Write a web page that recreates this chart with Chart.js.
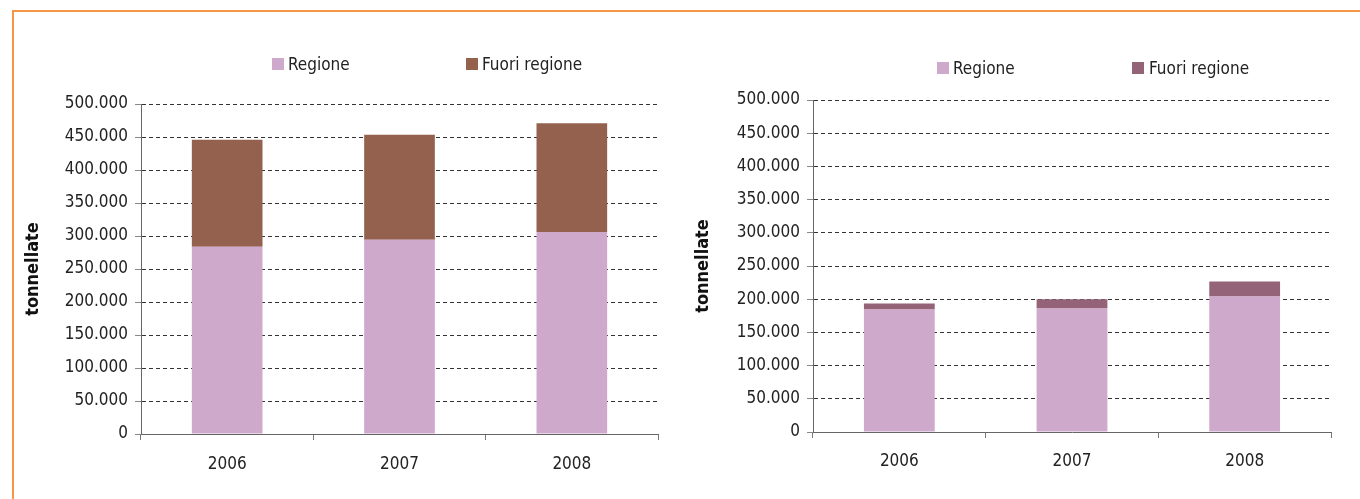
<!DOCTYPE html>
<html>
<head>
<meta charset="utf-8">
<script src="https://cdn.jsdelivr.net/npm/chart.js@4"></script>
<style>
  body { margin: 0; background: #fff; width: 1360px; height: 499px; overflow: hidden; position: relative; }
  .frame { position: absolute; left: 12px; top: 10px; width: 1360px; height: 500px;
           border-top: 2px solid #f79646; border-left: 2px solid #f79646; }
  .box { position: absolute; top: 12px; width: 670px; height: 487px; }
  .legend { position: absolute; font-family: 'DejaVu Sans Condensed', 'DejaVu Sans', sans-serif;
            font-size: 17px; color: #222; white-space: nowrap; line-height: 20px; }
  .sw { position: absolute; width: 12px; height: 12px; }
</style>
</head>
<body>
<div class="frame"></div>
<div class="box" style="left:14px"><canvas id="left"></canvas></div>
<div class="box" style="left:690px"><canvas id="right"></canvas></div>

<div class="sw" style="left:272px;top:58px;background:#cfa9cc"></div>
<div class="legend" style="left:288px;top:54px">Regione</div>
<div class="sw" style="left:466px;top:58px;background:#93614e"></div>
<div class="legend" style="left:482px;top:54px">Fuori regione</div>

<div class="sw" style="left:937px;top:62px;background:#cfa9cc"></div>
<div class="legend" style="left:953px;top:58px">Regione</div>
<div class="sw" style="left:1132px;top:62px;background:#956378"></div>
<div class="legend" style="left:1149px;top:58px">Fuori regione</div>

<script>
// data (tonnellate)
const years = ['2006', '2007', '2008'];
const regioneLeft = [283800, 294400, 306000];
const fuoriLeft = [162200, 159100, 165000];
const regioneRight = [184500, 186000, 204000];
const fuoriRight = [9000, 14000, 22500];
const yMax = 500000;
const yStep = 50000;

const FONT = "'DejaVu Sans Condensed', 'DejaVu Sans', sans-serif";

function fmt(v) {
    return String(v).replace(/\B(?=(\d{3})+(?!\d))/g, '.');
}

function makeChart(id, regione, fuori, fuoriColor, geo) {
    const ctx = document.getElementById(id).getContext('2d');
    return new Chart(ctx, {
        type: 'bar',
        data: {
            labels: years,
            datasets: [
                { label: 'Regione', data: regione, backgroundColor: '#cfa9cc',
                  categoryPercentage: 1, barPercentage: 0.41 },
                { label: 'Fuori regione', data: fuori, backgroundColor: fuoriColor,
                  categoryPercentage: 1, barPercentage: 0.41 }
            ]
        },
        options: {
            responsive: false,
            animation: false,
            devicePixelRatio: 1,
            layout: { padding: { left: 0, top: geo.top, right: geo.right, bottom: 0 } },
            plugins: { legend: { display: false }, tooltip: { enabled: false } },
            scales: {
                x: {
                    stacked: true,
                    grid: { offset: true, drawOnChartArea: false, drawTicks: true,
                            tickLength: 6, color: '#777' },
                    border: { color: '#666', width: 1 },
                    ticks: { color: '#222', font: { family: FONT, size: 17 }, padding: geo.xpad },
                    afterFit: function(s) { s.height = geo.xh; }
                },
                y: {
                    stacked: true,
                    min: 0, max: yMax,
                    grid: { color: '#333', tickColor: '#888', tickLength: 6, lineWidth: 1 },
                    border: { color: '#666', width: 1, dash: [4, 3] },
                    ticks: { stepSize: yStep, color: '#222', padding: 7,
                             font: { family: FONT, size: 17 },
                             callback: function(v) { return fmt(v); } },
                    title: { display: true, text: 'tonnellate', color: '#111',
                             font: { family: FONT, size: 18, weight: 'bold' },
                             padding: geo.tpad },
                    afterFit: function(s) { s.width = geo.yw; }
                }
            }
        }
    });
}

document.getElementById('left').width = 670;
document.getElementById('left').height = 487;
document.getElementById('right').width = 670;
document.getElementById('right').height = 487;

makeChart('left', regioneLeft, fuoriLeft, '#93614e',
          { top: 92, right: 26, xh: 65, yw: 127, tpad: 9, xpad: 14 });
makeChart('right', regioneRight, fuoriRight, '#956378',
          { top: 88, right: 29, xh: 67, yw: 123, tpad: 3, xpad: 13 });
</script>
</body>
</html>
